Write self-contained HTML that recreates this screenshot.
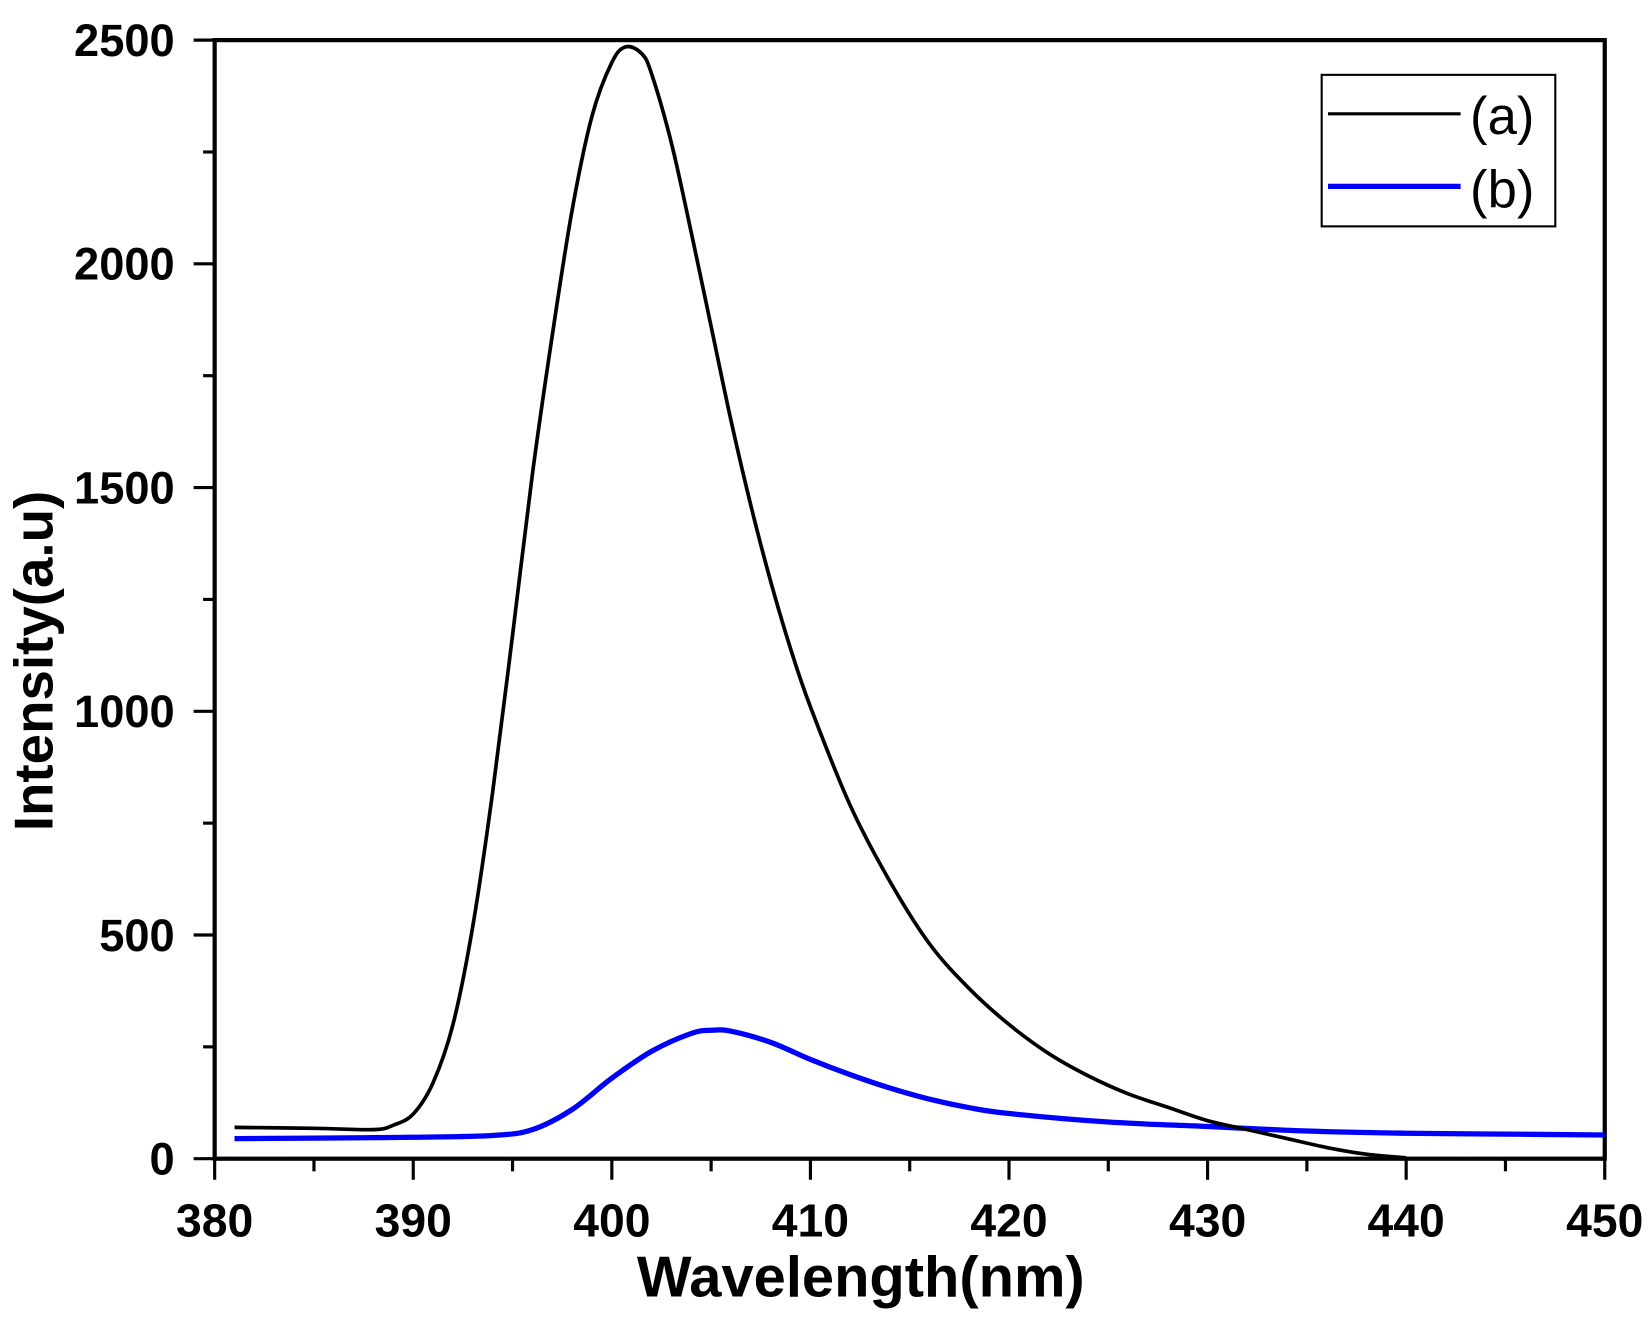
<!DOCTYPE html>
<html><head><meta charset="utf-8"><style>
html,body{margin:0;padding:0;background:#fff;}
svg{display:block;}
text{font-family:"Liberation Sans",Arial,sans-serif;}
</style></head><body>
<svg id="chart" width="1650" height="1323" viewBox="0 0 1568 1257" xmlns="http://www.w3.org/2000/svg">
<rect width="1568" height="1257" fill="#fff"/>
<g id="axes"></g>
<g id="series"></g>
<g id="legend">
  <rect x="1256" y="71" width="222" height="144" fill="#fff" stroke="#000" stroke-width="2"/>
  <line x1="1262" y1="108" x2="1388" y2="108" stroke="#000" stroke-width="3"/>
  <text x="1397" y="127" font-size="50">(a)</text>
  <line x1="1262" y1="177" x2="1388" y2="177" stroke="#0000ff" stroke-width="5"/>
  <text x="1397" y="197" font-size="50">(b)</text>
</g>
<text x="818" y="1232" font-size="55" font-weight="bold" text-anchor="middle">Wavelength(nm)</text>
<text transform="translate(50,628) rotate(-90)" font-size="52" font-weight="bold" text-anchor="middle">Intensity(a.u)</text>
</svg>
<script>
const xTicks = [380,390,400,410,420,430,440,450];
const yTicks = [0,500,1000,1500,2000,2500];
const seriesAx = [381,385,388,389,390,391,392,393,394,395,396,397,398,399,400,400.7,401.5,402,403,404,405,406,407,408,409,410,412,414,416,418,420,422,424,426,428,430,432,434,436,438,440];
const seriesAy = [70,68,65,75,100,170,300,520,820,1170,1530,1840,2120,2330,2450,2485,2470,2425,2270,2070,1860,1650,1460,1290,1140,1010,790,620,480,380,300,235,185,145,115,85,65,45,25,10,2];
const seriesBx = [381,385,390,394,396,398,400,402,404,405,406,408,410,412,414,416,418,420,425,430,435,440,445,450];
const seriesBy = [45,46,48,52,65,110,180,240,280,287,285,260,222,188,158,133,114,101,82,72,62,57,55,53];

const L=204,R=1525,T=38,B=1101;
const xMin=380,xMax=450,yMin=0,yMax=2500;
const sx=v=>L+(v-xMin)/(xMax-xMin)*(R-L);
const sy=v=>B-(v-yMin)/(yMax-yMin)*(B-T);
const NS="http://www.w3.org/2000/svg";
const axes=document.getElementById('axes');
function mk(tag,attrs,parent){const e=document.createElementNS(NS,tag);for(const k in attrs)e.setAttribute(k,attrs[k]);parent.appendChild(e);return e;}

const frame=mk('rect',{x:L,y:T,width:R-L,height:B-T,fill:'none',stroke:'#000','stroke-width':4},axes);



xTicks.forEach((v,i)=>{
  const t=mk('line',{x1:sx(v),x2:sx(v),y1:B,y2:B+20,stroke:'#000','stroke-width':3},axes);
  
  
  const lb=mk('text',{x:sx(v),y:B+74,'font-size':44,'font-weight':'bold','text-anchor':'middle'},axes);
  
  
  lb.textContent=v;
  if(i<xTicks.length-1){
    const m=mk('line',{x1:sx(v+5),x2:sx(v+5),y1:B,y2:B+12,stroke:'#000','stroke-width':3},axes);
    
    
  }
});
yTicks.forEach((v,i)=>{
  const t=mk('line',{x1:L-20,x2:L,y1:sy(v),y2:sy(v),stroke:'#000','stroke-width':3},axes);
  
  
  const lb=mk('text',{x:L-38,y:sy(v)+15,'font-size':43,'font-weight':'bold','text-anchor':'end'},axes);
  
  
  lb.textContent=v;
  if(i<yTicks.length-1){
    const m=mk('line',{x1:L-11,x2:L,y1:sy(v+250),y2:sy(v+250),stroke:'#000','stroke-width':3},axes);
    
    
  }
});

function pathFrom(xs,ys){
  const p=xs.map((x,i)=>[sx(x),sy(ys[i])]);
  let d=`M${p[0][0]},${p[0][1]}`;
  for(let i=0;i<p.length-1;i++){
    const p0=p[i-1]||p[i],p1=p[i],p2=p[i+1],p3=p[i+2]||p2;
    const c1x=p1[0]+(p2[0]-p0[0])/6,c1y=p1[1]+(p2[1]-p0[1])/6;
    const c2x=p2[0]-(p3[0]-p1[0])/6,c2y=p2[1]-(p3[1]-p1[1])/6;
    d+=` C${c1x},${c1y} ${c2x},${c2y} ${p2[0]},${p2[1]}`;
  }
  return d;
}
const sg=document.getElementById('series');
const lb=mk('path',{d:pathFrom(seriesBx,seriesBy),fill:'none',stroke:'#0000ff','stroke-width':5},sg);


const la=mk('path',{d:pathFrom(seriesAx,seriesAy),fill:'none',stroke:'#000','stroke-width':3.5},sg);


</script>
</body></html>
